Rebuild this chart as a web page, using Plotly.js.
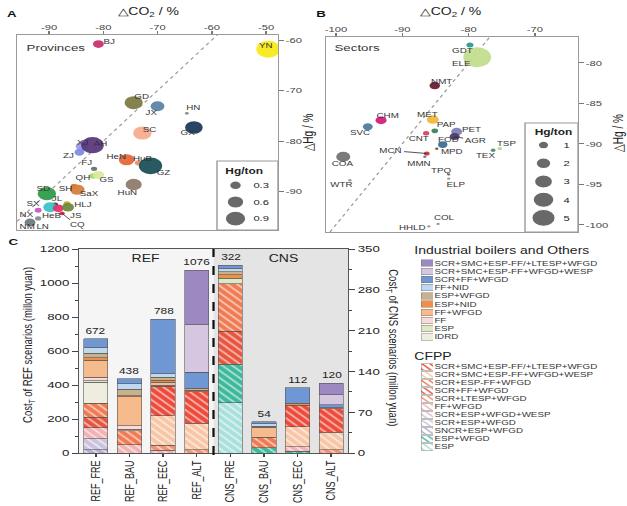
<!DOCTYPE html>
<html><head><meta charset="utf-8">
<script src="https://cdn.plot.ly/plotly-3.0.1.min.js"></script>
<style>
html,body{margin:0;padding:0;background:#fff;overflow:hidden;}
#chart{width:448px;height:506px;transform:scaleX(1.3996);transform-origin:0 0;}
</style></head><body><div id="chart"></div>
<script>
// ---------------- Panel A : provinces ----------------
const provNames = ['BJ','YN','GD','JX','HN','SC','GX','XJ','AH','ZJ','FJ','HeN','HuB','GZ','QH','GS','SH','SaX','HuN','SD','JL','HLJ','SX','NX','HeB','JS','CQ','NM','LN'];
const provCO2 = [-80.9,-49.6,-74.4,-70.0,-64.6,-72.8,-63.3,-83.9,-82.0,-84.4,-81.7,-75.7,-73.5,-71.3,-81.9,-80.9,-85.4,-84.8,-74.4,-90.4,-88.9,-86.7,-89.8,-92.0,-88.3,-86.5,-87.6,-93.5,-92.0];
const provHg  = [-60.8,-61.8,-72.4,-73.1,-74.5,-78.4,-77.3,-81.0,-80.8,-82.2,-85.5,-83.7,-84.3,-84.9,-86.9,-86.7,-89.0,-89.6,-88.6,-90.4,-92.6,-92.4,-93.1,-93.7,-93.3,-93.1,-94.3,-96.1,-95.3];
const provHgTon = [0.25,1.2,0.7,0.4,0.03,0.72,0.66,0.35,1.1,0.2,0.08,0.52,0.12,1.16,0.12,0.27,0.1,0.45,0.55,0.72,0.08,0.1,0.4,0.1,0.25,0.3,0.06,0.25,0.08];
const provColors = ['#c8326e','#f6ea1a','#7d7b45','#5e84a8','#888888','#f7ad8e','#1f3b5c','#9e9ae6','#5a3a80','#7d8ee0','#6f6f6f','#e4683a','#e98f70','#1e5058','#a6d86e','#dbe99a','#c56a2a','#d6803e','#8f7b6a','#2e9d4a','#3a3a3a','#c8a228','#3cc4c8','#c65bc4','#e3336f','#6b8b3e','#e0233d','#707b80','#8b8b8b'];
const provLegendVals = [0.3, 0.6, 0.9];

// ---------------- Panel B : sectors ----------------
const secNames = ['ELE','GDT','NMT','CHM','SVC','MET','PAP','CNT','PET','FOD','AGR','MPD','MCN','MMN','TSP','TEX','COA','WTR','TPQ','ELP','COL','HHLD'];
const secCO2 = [-78.7,-79.8,-85.1,-93.2,-95.2,-85.4,-85.1,-86.4,-81.8,-83.9,-82.1,-84.8,-86.3,-86.6,-75.3,-76.3,-98.9,-97.9,-83.0,-83.0,-84.6,-86.0];
const secHg  = [-79.3,-77.8,-82.8,-87.1,-87.9,-87.0,-88.4,-88.7,-88.5,-90.1,-89.1,-90.6,-91.2,-91.6,-90.6,-90.8,-91.6,-94.5,-93.8,-94.3,-99.9,-100.2];
const secHgTon = [7,0.45,1.0,1.1,0.9,1.3,0.4,0.35,1.1,0.8,0.9,0.1,0.3,0.1,0.2,0.2,1.8,0.1,0.1,0.1,0.1,0.1];
const secColors = ['#c2de8c','#2a9d8f','#6b1f33','#d21f78','#4f7d9c','#f2b63c','#3f7f62','#d8435a','#7f80b6','#3f6f92','#4b3b6e','#555555','#d0323f','#777777','#b2dd94','#4f8f60','#737373','#999999','#999999','#999999','#999999','#999999'];
const secLegendVals = [1, 2, 3, 4, 5];

// axis tick labels
const tickA_x = [-90,-80,-70,-60,-50], tickA_y = [-90,-80,-70,-60];
const tickB_x = [-100,-90,-80,-70], tickB_y = [-100,-95,-90,-85,-80];

// ---------------- Panel C : costs ----------------
const scenarios = ['REF_FRE','REF_BAU','REF_EEC','REF_ALT','CNS_FRE','CNS_BAU','CNS_EEC','CNS_ALT'];
const ibNames = ['SCR+SMC+ESP-FF/+LTESP+WFGD','SCR+SMC+ESP-FF+WFGD+WESP','SCR+FF+WFGD','FF+NID','ESP+WFGD','ESP+NID','FF+WFGD','FF','ESP','IDRD'];
const cfNames = ['SCR+SMC+ESP-FF/+LTESP+WFGD','SCR+SMC+ESP-FF+WFGD+WESP','SCR+ESP-FF+WFGD','SCR+FF+WFGD','SCR+LTESP+WFGD','FF+WFGD','SCR+ESP+WFGD+WESP','SCR+ESP+WFGD','SNCR+ESP+WFGD','ESP+WFGD','ESP'];
// values: REF scenarios in left-axis units, CNS scenarios in right-axis units
const ib1  = [0,0,0,323, 0,0,0,20];
const ib2  = [0,0,0,277, 0,0,0,17];
const ib3  = [49,30,321,94, 5,4,27,5];
const ib4  = [36,33,22,0, 6,4,0,0];
const ib5  = [27,37,18,12, 5,2,0,0];
const ib6  = [15,8,12,10, 6,0,3,2];
const ib7  = [100,170,17,0, 0,17,0,0];
const ib8  = [20,20,5,0, 0,0,0,0];
const ib9  = [8,10,0,0, 10,0,0,0];
const ib10 = [125,0,0,0, 0,0,0,0];
const cf1  = [0,0,175,185, 0,0,37,40];
const cf2  = [0,0,173,155, 0,0,34,30];
const cf3  = [82,80,0,0, 81,18,0,0];
const cf4  = [62,0,0,0, 57,0,0,0];
const cf5  = [0,0,30,20, 0,0,0,6];
const cf6  = [65,50,15,0, 0,0,8,0];
const cf7  = [0,0,0,0, 0,0,0,0];
const cf8  = [65,0,0,0, 0,0,0,0];
const cf9  = [18,0,0,0, 0,0,0,0];
const cf10 = [0,0,0,0, 66,9,3,0];
const cf11 = [0,0,0,0, 86,0,0,0];
const ibVals = [ib1,ib2,ib3,ib4,ib5,ib6,ib7,ib8,ib9,ib10];
const cfVals = [cf1,cf2,cf3,cf4,cf5,cf6,cf7,cf8,cf9,cf10,cf11];

// ---------------- styles ----------------
const ibColors = ['#9d88c2','#d6c6e0','#6f97d3','#bfd7ef','#c8b28e','#f28e45','#f5bb8d','#f9dada','#dfe7c4','#efeddd'];
const cfColors = ['#ee4a3a','#f8c6a6','#f07a52','#e8553e','#f49070','#f2b2b4','#e2bcd2','#cbc3dd','#b5acd6','#3cb89a','#a9e0dc'];
const kA = 15.5, kB = 7.5;           // bubble diameter per sqrt(Hg/ton)
const SX = 1.3996;                   // horizontal stretch of the page
// label offsets [dx, dy] in picture px (label centre minus point)
const provLabelOff = [[11,-3],[-3,-4],[8,-6],[-5,6],[6,-6],[8,-4],[-7,5],[0,-4],[8,-2],[-11,3],[-7,-6],[-11,-3],[4,-4],[13,7],[-10,2],[8,5],[-8,2],[13,4],[-7,8],[-4,-5],[2,-6],[15,1],[-16,-4],[-11,4],[-6,7],[8,8],[15,12],[-3,4],[5,8]];
const secLabelOff = [[-16,6],[-7,5],[8,-4],[7,-5],[-8,6],[-5,-5],[11,-6],[-7,5],[15,-2],[6,-5],[21,4],[15,3],[-36,-3],[-5,7],[7,-5],[-8,5],[0,7],[-9,4],[-7,-4],[7,6],[6,-6],[-16,1]];
const leaderA = ['CQ'], leaderB = ['AGR','MCN'];

const font = 'Liberation Sans, Arial, sans-serif';
const traces = [], annotations = [], shapes = [];

function px(x){return x/627;} function py(y){return 1-y/506;}

// ---- bubbles
traces.push({type:'scatter',mode:'markers',x:provCO2,y:provHg,xaxis:'x',yaxis:'y',
  marker:{size:provHgTon.map(v=>kA*Math.sqrt(v)),color:provColors,opacity:0.95,line:{width:0}},hoverinfo:'skip'});
traces.push({type:'scatter',mode:'markers',x:secCO2,y:secHg,xaxis:'x2',yaxis:'y2',
  marker:{size:secHgTon.map(v=>kB*Math.sqrt(v)),color:secColors,opacity:0.95,line:{width:0}},hoverinfo:'skip'});

function labels(names,xs,ys,offs,leaders,xr,yr){
  names.forEach((n,i)=>{
    const o=offs[i], lead=leaders.includes(n);
    annotations.push(lead ? {x:xs[i],y:ys[i],xref:xr,yref:yr,text:n,showarrow:true,arrowhead:0,arrowwidth:0.7,arrowcolor:'#333',
        ax:o[0]/SX,ay:o[1],standoff:0,font:{size:7,color:'#333'}}
      : {x:xs[i],y:ys[i],xref:xr,yref:yr,text:n,showarrow:false,xanchor:'center',yanchor:'middle',xshift:o[0]/SX,yshift:-o[1],font:{size:7,color:'#333'}});
  });
}
labels(provNames,provCO2,provHg,provLabelOff,leaderA,'x','y');
labels(secNames,secCO2,secHg,secLabelOff,leaderB,'x2','y2');

// ---- size legends
traces.push({type:'scatter',mode:'markers',x:provLegendVals.map(()=>0.5),y:provLegendVals.map(String),xaxis:'x7',yaxis:'y7',
  marker:{size:provLegendVals.map(v=>kA*Math.sqrt(v)),color:'#2b2b2b'},hoverinfo:'skip'});
traces.push({type:'scatter',mode:'markers',x:secLegendVals.map(()=>0.5),y:secLegendVals.map(String),xaxis:'x8',yaxis:'y8',
  marker:{size:secLegendVals.map(v=>kB*Math.sqrt(v)),color:'#2b2b2b'},hoverinfo:'skip'});

// ---- stacked bars
const pat = c => ({shape:'\\',bgcolor:c,fgcolor:'rgba(255,255,255,0.6)',fillmode:'replace',size:5,solidity:0.3});
const stack = [];
for(let i=cfNames.length-1;i>=0;i--) stack.push({vals:cfVals[i],color:cfColors[i],hatch:true});
for(let i=ibNames.length-1;i>=0;i--) stack.push({vals:ibVals[i],color:ibColors[i],hatch:false});
stack.forEach(s=>{
  [[0,4,'y3'],[4,8,'y4']].forEach(([a,b,ya])=>{
    const m={color:s.color,line:{color:'#555',width:0.5}};
    if(s.hatch) m.pattern=pat(s.color);
    traces.push({type:'bar',x:scenarios.slice(a,b),y:s.vals.slice(a,b).map(v=>v||null),xaxis:'x3',yaxis:ya,width:0.72,marker:m,hoverinfo:'skip'});
  });
});
const allVals=[...cfVals,...ibVals];
scenarios.forEach((sc,j)=>{
  const t=allVals.reduce((s,a)=>s+a[j],0);
  annotations.push({x:sc,y:t,xref:'x3',yref:j<4?'y3':'y4',text:String(t),showarrow:false,xanchor:'center',yanchor:'bottom',yshift:1,font:{size:8.5,color:'#222'}});
});

// ---- legend swatches (panel C)
traces.push({type:'bar',orientation:'h',x:ibNames.map(()=>1),y:ibNames,xaxis:'x5',yaxis:'y5',width:0.8,
  marker:{color:ibColors,line:{color:'#777',width:0.4}},hoverinfo:'skip'});
traces.push({type:'bar',orientation:'h',x:cfNames.map(()=>1),y:cfNames,xaxis:'x6',yaxis:'y6',width:0.8,
  marker:{color:cfColors,line:{color:'#777',width:0.4},
    pattern:{shape:cfNames.map(()=>'\\'),bgcolor:cfColors,fgcolor:'rgba(255,255,255,0.6)',fillmode:'replace',size:4,solidity:0.3}},hoverinfo:'skip'});

// ---- shapes
function diag(xr,yr,rx,ry){const lo=Math.max(rx[0],ry[0]),hi=Math.min(rx[1],ry[1]);
  shapes.push({type:'line',xref:xr,yref:yr,x0:lo,y0:lo,x1:hi,y1:hi,line:{color:'#9a9a9a',width:1,dash:'dot'},layer:'below'});}
const rAx=[-95.9,-47.8], rAy=[-97.6,-59], rBx=[-101.5,-63.5], rBy=[-100.9,-76.8];
diag('x','y',rAx,rAy); diag('x2','y2',rBx,rBy);
shapes.push({type:'rect',xref:'paper',yref:'paper',x0:px(217),x1:px(278),y0:py(230),y1:py(161),line:{color:'#999',width:1},fillcolor:'#fff',layer:'below'});
shapes.push({type:'rect',xref:'paper',yref:'paper',x0:px(525),x1:px(578),y0:py(232),y1:py(123),line:{color:'#999',width:1},fillcolor:'#fff',layer:'below'});
shapes.push({type:'rect',xref:'x3',yref:'y3 domain',x0:-0.5,x1:3.5,y0:0,y1:1,fillcolor:'#f5f5f5',line:{width:0},layer:'below'});
shapes.push({type:'rect',xref:'x3',yref:'y3 domain',x0:3.5,x1:7.5,y0:0,y1:1,fillcolor:'#e4e4e4',line:{width:0},layer:'below'});
shapes.push({type:'line',xref:'x3',yref:'y3 domain',x0:3.5,x1:3.5,y0:-0.01,y1:1,line:{color:'#111',width:1.6,dash:'dash'}});

// ---- texts
const T=(x,y,text,o)=>annotations.push(Object.assign({x:px(x),y:py(y),xref:'paper',yref:'paper',text,showarrow:false,
  xanchor:'center',yanchor:'middle',font:{size:10,color:'#222'}},o||{}));
T(4,14,'<b>A</b>',{xanchor:'left',font:{size:9.5,color:'#111'}});
T(313,14,'<b>B</b>',{xanchor:'left',font:{size:9.5,color:'#111'}});
T(5,241,'<b>C</b>',{xanchor:'left',font:{size:9.5,color:'#111'}});
T(148,12,'△CO<sub>2</sub> / %');
T(450,12,'△CO<sub>2</sub> / %');
T(307,132,'△Hg / %',{textangle:-90});
T(617,133,'△Hg / %',{textangle:-90});
T(24,47,'Provinces',{xanchor:'left',font:{size:9.5,color:'#333'}});
T(332,47,'Sectors',{xanchor:'left',font:{size:9.5,color:'#333'}});
T(222,171,'<b>Hg/ton</b>',{xanchor:'left',font:{size:8.5,color:'#222'}});
T(532,132,'<b>Hg/ton</b>',{xanchor:'left',font:{size:8.5,color:'#222'}});
T(145,258,'REF',{font:{size:10,color:'#222'}});
T(283,258,'CNS',{font:{size:10,color:'#222'}});
T(28,345,'Cost<sub>T</sub> of REF scenarios (millon yuan)',{textangle:-90,font:{size:9.5,color:'#222'}});
T(393,348,'Cost<sub>T</sub> of CNS scenarios (millon yuan)',{textangle:90,font:{size:9.5,color:'#222'}});
T(412,250,'Industrial boilers and Others',{xanchor:'left',font:{size:10,color:'#222'}});
T(412,356,'CFPP',{xanchor:'left',font:{size:10,color:'#222'}});

const frameAxis = {showline:true,mirror:true,linecolor:'#9a9a9a',linewidth:1,ticks:'outside',ticklen:3,tickcolor:'#777',
  showgrid:false,zeroline:false,tickfont:{size:8,color:'#444'}};
const hid = {visible:false,showgrid:false,zeroline:false,fixedrange:true};
const layout = {
  width:448,height:506,margin:{l:0,r:0,t:0,b:0},paper_bgcolor:'#fff',plot_bgcolor:'rgba(0,0,0,0)',
  font:{family:font,size:9,color:'#222'},showlegend:false,barmode:'stack',
  xaxis:Object.assign({},frameAxis,{domain:[px(17),px(278)],range:rAx,side:'top',anchor:'y',tickvals:tickA_x,ticktext:tickA_x.map(String),ticklabelstandoff:-2}),
  yaxis:Object.assign({},frameAxis,{domain:[py(230),py(35)],range:rAy,side:'right',anchor:'x',tickvals:tickA_y,ticktext:tickA_y.map(String)}),
  xaxis2:Object.assign({},frameAxis,{domain:[px(326),px(578)],range:rBx,side:'top',anchor:'y2',tickvals:tickB_x,ticktext:tickB_x.map(String),ticklabelstandoff:-2}),
  yaxis2:Object.assign({},frameAxis,{domain:[py(232),py(37)],range:rBy,side:'right',anchor:'x2',tickvals:tickB_y,ticktext:tickB_y.map(String)}),
  xaxis3:{domain:[px(79),px(348)],anchor:'y3',type:'category',categoryarray:scenarios,range:[-0.5,7.5],tickangle:-90,
    showline:true,mirror:true,linecolor:'#555',ticks:'outside',ticklen:3,showgrid:false,zeroline:false,tickfont:{size:9,color:'#222'}},
  yaxis3:{domain:[py(453),py(249)],anchor:'x3',range:[0,1200],tick0:0,dtick:200,ticks:'outside',ticklen:4,showline:true,linecolor:'#555',
    showgrid:false,zeroline:false,tickfont:{size:9.5,color:'#222'},minor:{dtick:100,ticks:'outside',ticklen:2,showgrid:false}},
  yaxis4:{overlaying:'y3',side:'right',anchor:'x3',range:[0,350],tick0:0,dtick:70,ticks:'outside',ticklen:4,showline:true,linecolor:'#555',
    showgrid:false,zeroline:false,tickfont:{size:9.5,color:'#222'},minor:{dtick:35,ticks:'outside',ticklen:2,showgrid:false}},
  xaxis5:Object.assign({},hid,{domain:[px(421),px(433)],range:[0,1],anchor:'y5'}),
  yaxis5:{domain:[py(341),py(259)],anchor:'x5',type:'category',categoryarray:ibNames,range:[ibNames.length-0.5,-0.5],side:'right',
    showline:false,ticks:'',showgrid:false,zeroline:false,tickfont:{size:7,color:'#333'},fixedrange:true},
  xaxis6:Object.assign({},hid,{domain:[px(421),px(433)],range:[0,1],anchor:'y6'}),
  yaxis6:{domain:[py(451),py(363)],anchor:'x6',type:'category',categoryarray:cfNames,range:[cfNames.length-0.5,-0.5],side:'right',
    showline:false,ticks:'',showgrid:false,zeroline:false,tickfont:{size:7,color:'#333'},fixedrange:true},
  xaxis7:Object.assign({},hid,{domain:[px(219),px(252)],range:[0,1],anchor:'y7'}),
  yaxis7:{domain:[py(227),py(177)],anchor:'x7',type:'category',categoryarray:provLegendVals.map(String),range:[2.5,-0.5],side:'right',
    showline:false,ticks:'',showgrid:false,zeroline:false,tickfont:{size:8,color:'#222'}},
  xaxis8:Object.assign({},hid,{domain:[px(525),px(562)],range:[0,1],anchor:'y8'}),
  yaxis8:{domain:[py(227),py(136)],anchor:'x8',type:'category',categoryarray:secLegendVals.map(String),range:[4.5,-0.5],side:'right',
    showline:false,ticks:'',showgrid:false,zeroline:false,tickfont:{size:8,color:'#222'}},
  shapes, annotations
};
Plotly.newPlot('chart',traces,layout,{staticPlot:true,displayModeBar:false});
</script></body></html>
